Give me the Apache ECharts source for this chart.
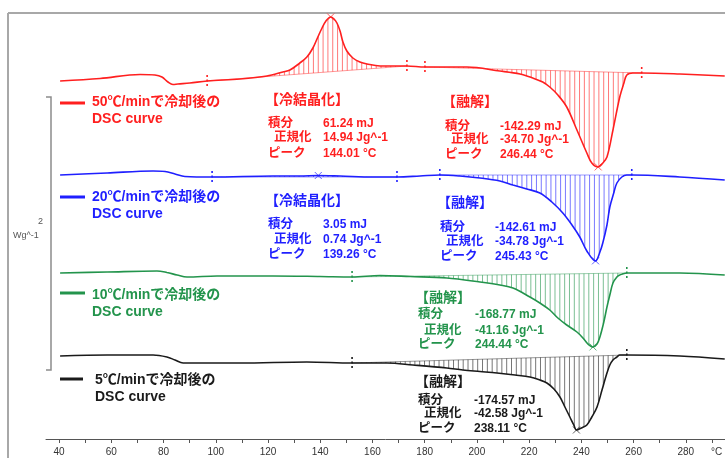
<!DOCTYPE html>
<html>
<head>
<meta charset="utf-8">
<script src="https://cdn.jsdelivr.net/npm/echarts@6/dist/echarts.min.js"></script>
<style>
html, body { margin: 0; padding: 0; background: #fff; }
#main { width: 725px; height: 458px; }
</style>
</head>
<body>
<div id="main"></div>
<script>
// temperature (°C) and trace height (offset units above the axis)
var redT = [40.4, 55.7, 71.0, 76.7, 79.4, 81.7, 83.6, 85.5, 90.1, 96.7, 109.3, 119.6, 125.7, 128.4, 132.2, 134.9, 137.2, 139.1, 140.7, 142.2, 144.0, 145.3, 146.4, 147.6, 148.7, 150.2, 152.5, 155.2, 157.9, 162.9, 173.2, 180.1, 185.8, 196.2, 208.8, 216.5, 221.4, 225.2, 227.9, 231.0, 234.4, 238.3, 242.1, 244.0, 246.4, 247.9, 249.8, 252.1, 254.7, 256.3, 257.4, 259.7, 263.1, 277.7, 294.9];
var redH = [358, 360.5, 364.5, 364, 362, 357, 354.5, 355, 356, 358, 360, 363, 367, 369, 376, 382, 391, 402, 411, 418, 422, 420, 416, 408, 397, 388, 381, 377, 375, 373, 373, 372, 372, 372, 368, 365, 361, 357, 352, 344, 332, 309, 286, 276, 272, 275, 282, 309, 342, 356, 364, 366, 366, 365, 363];

var blueT = [40.4, 58.4, 76.0, 80.6, 84.4, 88.2, 98.6, 121.9, 132.2, 139.1, 147.6, 160.2, 169.4, 178.2, 185.8, 193.5, 201.2, 208.8, 213.8, 219.1, 224.1, 228.7, 232.9, 236.4, 239.4, 242.1, 245.4, 247.1, 248.2, 249.8, 250.9, 252.4, 253.6, 255.5, 257.4, 259.3, 277.7, 294.9];
var blueH = [264, 266, 268, 267.5, 265, 262.5, 262, 263, 263, 263.5, 263, 262, 262, 263, 264, 263, 261, 258, 254, 250, 246, 237, 226, 214, 202, 188, 178, 187, 196, 214, 232, 246, 256, 262, 264, 264, 262, 259];

var greenT = [40.4, 58.4, 77.5, 81.3, 85.2, 89.0, 100.5, 121.9, 139.9, 152.2, 162.9, 174.4, 188.5, 201.2, 208.8, 213.8, 220.3, 224.1, 227.9, 231.0, 234.4, 238.3, 240.6, 242.5, 244.4, 246.0, 247.1, 248.6, 249.8, 250.9, 252.1, 253.6, 254.7, 257.4, 277.7, 294.9];
var greenH = [166, 167, 168, 166.5, 164, 162, 163, 163, 162.5, 162, 163.5, 162.5, 161, 157, 154, 151, 142, 136, 129, 121, 114, 107, 101, 95, 92, 95, 102, 117, 132, 144, 156, 162, 164, 166, 166, 164];

var blackT = [40.4, 58.4, 76.0, 81.3, 84.4, 87.5, 109.3, 134.9, 152.2, 165.6, 175.5, 188.5, 194.6, 201.2, 207.7, 214.6, 220.3, 224.1, 226.8, 229.5, 231.8, 233.7, 235.6, 237.1, 238.1, 240.0, 242.1, 244.0, 246.0, 247.9, 249.8, 250.9, 252.1, 253.6, 254.7, 257.4, 277.7, 294.9];
var blackH = [83, 84, 84, 82, 79, 76, 76, 77, 76, 76, 74, 71, 69, 67.5, 66, 64, 62, 59, 56, 50, 42, 32, 22, 14, 9, 11, 14, 22, 32, 49, 66, 74, 79, 82, 84, 84, 83, 80];

// integration ranges (°C) and peak temperatures
var redRanges = [[96.7, 173.2], [180.1, 263.1]];
var redPeaks = [144.01, 246.44];
var blueRanges = [[98.6, 169.4], [185.8, 259.3]];
var bluePeaks = [139.26, 245.43];
var greenRanges = [[152.2, 257.4]];
var greenPeaks = [244.44];
var blackRanges = [[152.2, 257.4]];
var blackPeaks = [238.11];

var tickValues = [40, 50, 60, 70, 80, 90, 100, 110, 120, 130, 140, 150, 160, 170, 180, 190, 200, 210, 220, 230, 240, 250, 260, 270, 280, 290];
var labelValues = [40, 60, 80, 100, 120, 140, 160, 180, 200, 220, 240, 260, 280];

var rowNames = ['積分', '正規化', 'ピーク'];
var redCryst = ['61.24 mJ', '14.94 Jg^-1', '144.01 °C'];
var redMelt = ['-142.29 mJ', '-34.70 Jg^-1', '246.44 °C'];
var blueCryst = ['3.05 mJ', '0.74 Jg^-1', '139.26 °C'];
var blueMelt = ['-142.61 mJ', '-34.78 Jg^-1', '245.43 °C'];
var greenMelt = ['-168.77 mJ', '-41.16 Jg^-1', '244.44 °C'];
var blackMelt = ['-174.57 mJ', '-42.58 Jg^-1', '238.11 °C'];

var RED = '#ff1f1f', BLUE = '#1f1fff', GREEN = '#23944c', BLACK = '#1a1a1a';
var FF = '"Liberation Sans","Noto Sans CJK JP",sans-serif';

function interp(t, ts, hs) {
    if (t <= ts[0]) return hs[0];
    for (var i = 1; i < ts.length; i++) {
        if (t <= ts[i]) {
            var f = (t - ts[i - 1]) / (ts[i] - ts[i - 1]);
            return hs[i - 1] + f * (hs[i] - hs[i - 1]);
        }
    }
    return hs[hs.length - 1];
}

function zip(ts, hs) {
    var out = [];
    for (var i = 0; i < ts.length; i++) out.push([ts[i], hs[i]]);
    return out;
}

// vertical hatch lines between the integration baseline and the trace
function hatchData(ts, hs, ranges, step) {
    var out = [];
    ranges.forEach(function (r) {
        var a = r[0], b = r[1];
        var ha = interp(a, ts, hs), hb = interp(b, ts, hs);
        for (var t = a + step; t < b; t += step) {
            var base = ha + (hb - ha) * (t - a) / (b - a);
            out.push([t, base, interp(t, ts, hs)]);
        }
    });
    return out;
}

function baseData(ts, hs, ranges) {
    return ranges.map(function (r) {
        return [r[0], interp(r[0], ts, hs), r[1], interp(r[1], ts, hs)];
    });
}

function limitData(ts, hs, ranges) {
    var out = [];
    ranges.forEach(function (r) {
        out.push([r[0], interp(r[0], ts, hs)]);
        out.push([r[1], interp(r[1], ts, hs)]);
    });
    return out;
}

function peakData(ts, hs, peaks) {
    return peaks.map(function (p) { return [p, interp(p, ts, hs)]; });
}

function renderHatch(params, api) {
    var p1 = api.coord([api.value(0), api.value(1)]);
    var p2 = api.coord([api.value(0), api.value(2)]);
    return { type: 'line', shape: { x1: p1[0], y1: p1[1], x2: p2[0], y2: p2[1] },
        style: { stroke: api.visual('color'), lineWidth: 1, opacity: 0.6 } };
}

function renderBase(params, api) {
    var p1 = api.coord([api.value(0), api.value(1)]);
    var p2 = api.coord([api.value(2), api.value(3)]);
    return { type: 'line', shape: { x1: p1[0], y1: p1[1], x2: p2[0], y2: p2[1] },
        style: { stroke: api.visual('color'), lineWidth: 1, opacity: 0.45 } };
}

function renderLimit(params, api) {
    var p = api.coord([api.value(0), api.value(1)]);
    return { type: 'line', shape: { x1: p[0], y1: p[1] - 6, x2: p[0], y2: p[1] + 6 },
        style: { stroke: api.visual('color'), lineWidth: 1.6, lineDash: [2, 2.5] } };
}

function renderPeak(params, api) {
    var p = api.coord([api.value(0), api.value(1)]);
    var s = 3.5;
    return { type: 'group', children: [
        { type: 'line', shape: { x1: p[0] - s, y1: p[1] - s, x2: p[0] + s, y2: p[1] + s }, style: { stroke: api.visual('color'), lineWidth: 1, opacity: 0.7 } },
        { type: 'line', shape: { x1: p[0] - s, y1: p[1] + s, x2: p[0] + s, y2: p[1] - s }, style: { stroke: api.visual('color'), lineWidth: 1, opacity: 0.7 } }
    ] };
}

function traceSeries(name, ts, hs, ranges, peaks, color) {
    return [
        { name: name + 'hatch', type: 'custom', renderItem: renderHatch, itemStyle: { color: color },
          data: hatchData(ts, hs, ranges, 1.85), z: 1, silent: true },
        { name: name + 'base', type: 'custom', renderItem: renderBase, itemStyle: { color: color },
          data: baseData(ts, hs, ranges), z: 1, silent: true },
        { name: name, type: 'line', data: zip(ts, hs), showSymbol: false, smooth: 0.35,
          lineStyle: { color: color, width: 1.6 }, itemStyle: { color: color }, z: 3, silent: true },
        { name: name + 'lim', type: 'custom', renderItem: renderLimit, itemStyle: { color: color },
          data: limitData(ts, hs, ranges), z: 4, silent: true },
        { name: name + 'pk', type: 'custom', renderItem: renderPeak, itemStyle: { color: color },
          data: peakData(ts, hs, peaks), z: 4, silent: true }
    ];
}

function txt(x, y, s, color, font) {
    return { type: 'text', x: x, y: y, silent: true,
        style: { text: s, fill: color, font: font, verticalAlign: 'middle', align: 'left' } };
}

// result block: title, three rows of name / value
function block(inkX, valX, ys, title, vals, color) {
    var els = [txt(inkX - 3, ys[0], title, color, 'bold 14px ' + FF)];
    for (var i = 0; i < 3; i++) {
        var lx = i === 1 ? inkX + 6 : inkX;
        els.push(txt(lx, ys[i + 1], rowNames[i], color, 'bold 12.5px ' + FF));
        els.push(txt(valX, ys[i + 1], vals[i], color, 'bold 12px ' + FF));
    }
    return els;
}

function legendItem(x1, x2, ly, tx, ty, label, color) {
    return [
        { type: 'line', silent: true, shape: { x1: x1, y1: ly, x2: x2, y2: ly }, style: { stroke: color, lineWidth: 3 } },
        txt(tx, ty, label, color, 'bold 14px ' + FF),
        txt(tx, ty + 17, 'DSC curve', color, 'bold 14px ' + FF)
    ];
}

var myChart = echarts.init(document.getElementById('main'));

var elements = [
    { type: 'line', silent: true, shape: { x1: 8, y1: 13, x2: 725, y2: 13 }, style: { stroke: '#a8a8a8', lineWidth: 2 } },
    { type: 'line', silent: true, shape: { x1: 8, y1: 13, x2: 8, y2: 458 }, style: { stroke: '#a8a8a8', lineWidth: 2 } },
    { type: 'polyline', silent: true, shape: { points: [[46, 97], [51, 97], [51, 370], [46, 370]] }, style: { stroke: '#8c8c8c', lineWidth: 1.5, fill: null } },
    txt(38, 222, '2', '#555', '9px ' + FF),
    txt(13, 236, 'Wg^-1', '#555', '9px ' + FF),
    txt(711, 452, '°C', '#333', '10px ' + FF)
];
elements = elements
    .concat(legendItem(60, 85, 103, 92, 102, '50℃/minで冷却後の', RED))
    .concat(legendItem(60, 85, 197, 92, 197, '20℃/minで冷却後の', BLUE))
    .concat(legendItem(60, 85, 293, 92, 295, '10℃/minで冷却後の', GREEN))
    .concat(legendItem(60, 83, 379, 95, 380, '5℃/minで冷却後の', BLACK))
    .concat(block(268, 323, [100, 124, 138, 153.5], '【冷結晶化】', redCryst, RED))
    .concat(block(445, 500, [102, 126.5, 140, 155], '【融解】', redMelt, RED))
    .concat(block(268, 323, [201, 225, 240, 254.5], '【冷結晶化】', blueCryst, BLUE))
    .concat(block(440, 495, [203, 228, 241.5, 256.5], '【融解】', blueMelt, BLUE))
    .concat(block(418, 475, [298, 315, 331, 345], '【融解】', greenMelt, GREEN))
    .concat(block(418, 474, [382, 401, 413.5, 428.5], '【融解】', blackMelt, BLACK));

var option = {
    animation: false,
    backgroundColor: '#fff',
    grid: { left: 46, right: 0, top: 13, bottom: 19 },
    xAxis: {
        type: 'value',
        min: 35,
        max: 295,
        axisLine: { lineStyle: { color: '#555', width: 1 } },
        axisTick: { show: true, length: 4, customValues: tickValues, lineStyle: { color: '#555' } },
        axisLabel: { customValues: labelValues, color: '#333', fontSize: 10, fontFamily: FF, margin: 8 },
        splitLine: { show: false }
    },
    yAxis: { type: 'value', min: 0, max: 426, show: false, splitLine: { show: false } },
    graphic: { elements: elements },
    series: []
        .concat(traceSeries('50', redT, redH, redRanges, redPeaks, RED))
        .concat(traceSeries('20', blueT, blueH, blueRanges, bluePeaks, BLUE))
        .concat(traceSeries('10', greenT, greenH, greenRanges, greenPeaks, GREEN))
        .concat(traceSeries('5', blackT, blackH, blackRanges, blackPeaks, BLACK))
};
myChart.setOption(option);
</script>
</body>
</html>
